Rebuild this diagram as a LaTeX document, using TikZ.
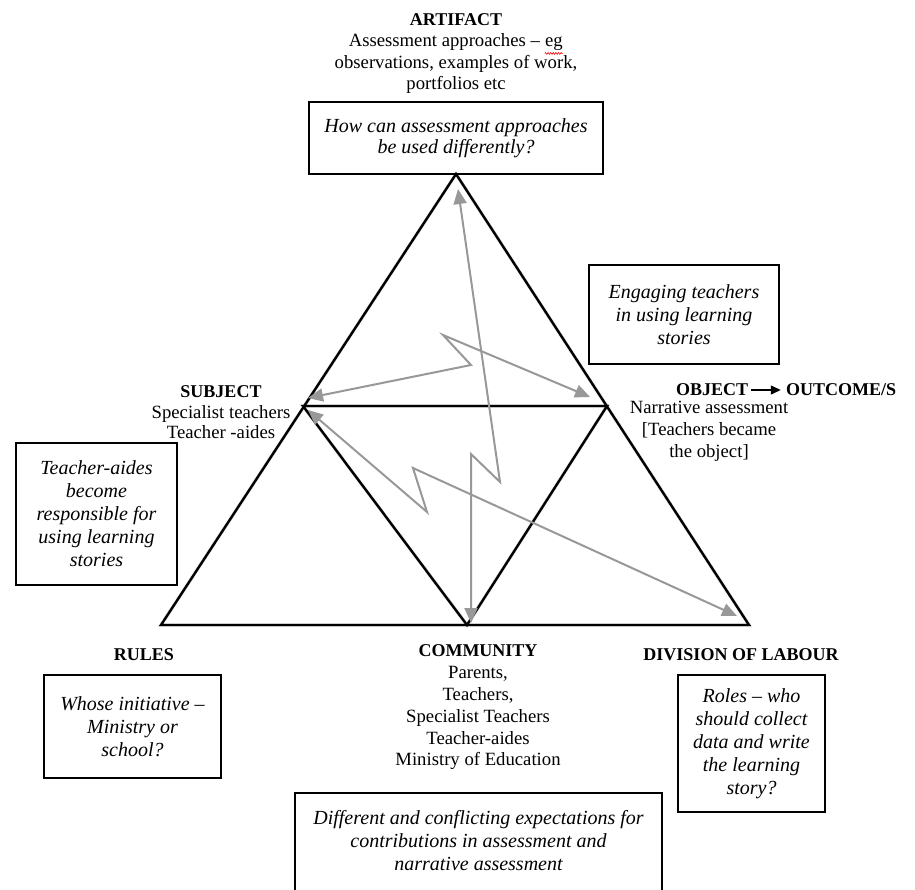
\documentclass[tikz,border=0pt]{standalone}
\usepackage{fontspec}
\setmainfont{Liberation Serif}
\usetikzlibrary{arrows.meta,decorations.pathmorphing}
\definecolor{flowgray}{RGB}{152,152,152}
\definecolor{shadegray}{RGB}{200,200,200}
% a word with a red spell-check wave under it
\newcommand\spellwave[1]{\tikz[baseline=(sw.base)]{%
  \node[inner sep=0, anchor=base] (sw) {#1};
  \draw[red, line width=0.6pt, decorate,
    decoration={zigzag, amplitude=0.9pt, segment length=2.6pt}]
    ([yshift=-3pt]sw.south west) -- ([yshift=-3pt]sw.south east);}}
\begin{document}
\begin{tikzpicture}[x=1pt,y=-1pt,
  tri/.style={line width=2.4pt, line join=miter},
  trishade/.style={line width=3.5pt, draw=shadegray, opacity=0.55},
  flow/.style={draw=flowgray, line width=2pt,
    {Triangle[length=15pt,width=13pt]}-{Triangle[length=15pt,width=13pt]}},
  head/.style={font=\fontsize{18}{21}\selectfont\bfseries, inner sep=0},
  plain/.style={font=\fontsize{18.7}{21}\selectfont, align=center, inner sep=0},
  note/.style={draw, line width=1.3pt, inner sep=0,
    font=\fontsize{20}{23}\selectfont\itshape, align=center},
]
\useasboundingbox (0,0) rectangle (915,889);

% corners of the activity triangle
\coordinate (apex) at (456,174);
\coordinate (bl) at (161,625);
\coordinate (br) at (749,625);
\coordinate (ml) at (303,406);
\coordinate (mr) at (607,406);
\coordinate (mb) at (467,625);

% soft shading under the triangle
\begin{scope}[shift={(1.5,2.5)}]
  \draw[trishade] (apex) -- (br) -- (bl) -- cycle;
  \draw[trishade] (ml) -- (mr) -- (mb) -- cycle;
\end{scope}
\draw[tri] (apex) -- (br) -- (bl) -- cycle;
\draw[tri] (ml) -- (mr) -- (mb) -- cycle;

% tension arrows
\coordinate (artTip) at (458,189);
\coordinate (comTip) at (471,623);
\coordinate (v1) at (500,482);
\coordinate (v2) at (471,454);
\draw[flow] (artTip) -- (v1) -- (v2) -- (comTip);

\coordinate (subTipA) at (308,398);
\coordinate (u1) at (471,365);
\coordinate (u2) at (443,335);
\coordinate (objTip) at (590,397);
\draw[flow] (subTipA) -- (u1) -- (u2) -- (objTip);

\coordinate (subTipB) at (308,410);
\coordinate (w1) at (427,512);
\coordinate (w2) at (413,468);
\coordinate (dolTip) at (737,616);
\draw[flow] (subTipB) -- (w1) -- (w2) -- (dolTip);

% artifact
\node[plain] (artifact) at (456,53.5) {\fontsize{18}{21}\selectfont\textbf{ARTIFACT}\\\fontsize{18.7}{21}\selectfont Assessment approaches – \spellwave{eg}\\observations, examples of work,\\portfolios etc};
\node[note, minimum width=294pt, minimum height=72pt, font=\fontsize{20}{21.5}\selectfont\itshape] (qArtifact) at (456,138)
  {How can assessment approaches\\be used differently?};

% object
\node[note, minimum width=190pt, minimum height=99pt] (qObject) at (684,314.5)
  {Engaging teachers\\in using learning\\stories};
\node[head] (object) at (712,390) {OBJECT};
\node[head] (outcome) at (841,390) {OUTCOME/S};
\draw[line width=1.3pt, -{Triangle[length=10pt,width=9pt]}, shorten <=3pt, shorten >=5pt]
  (object.east) -- (outcome.west);
\node[plain, font=\fontsize{18.7}{22}\selectfont] (objectText) at (709,431)
  {Narrative assessment\\{}[Teachers became\\the object]};

% subject
\node[plain, font=\fontsize{18.7}{20.5}\selectfont] (subject) at (221,412.5)
  {\fontsize{18}{20.5}\selectfont\textbf{SUBJECT}\\\fontsize{18.7}{20.5}\selectfont Specialist teachers\\Teacher -aides};
\node[note, minimum width=161pt, minimum height=142pt] (qSubject) at (96.5,514)
  {Teacher-aides\\become\\responsible for\\using learning\\stories};

% rules
\node[head] (rules) at (144,655) {RULES};
\node[note, minimum width=177pt, minimum height=103pt] (qRules) at (132.5,726.5)
  {Whose initiative –\\Ministry or\\school?};

% community
\node[plain, font=\fontsize{18.7}{21.8}\selectfont] (community) at (478,707.5)
  {\fontsize{18}{21.8}\selectfont\textbf{COMMUNITY}\\\fontsize{18.7}{21.8}\selectfont Parents,\\Teachers,\\Specialist Teachers\\Teacher-aides\\Ministry of Education};
\node[font=\fontsize{20}{23}\selectfont\itshape, align=center, inner sep=0] (qCommunity) at (478.5,841)
  {Different and conflicting expectations for\\contributions in assessment and\\narrative assessment};
\draw[line width=1.3pt] (295,895) |- (662,793) -- (662,895);

% division of labour
\node[head] (division) at (741,655) {DIVISION OF LABOUR};
\node[note, minimum width=147pt, minimum height=137pt] (qDivision) at (751.5,743.5)
  {Roles – who\\should collect\\data and write\\the learning\\story?};
\end{tikzpicture}
\end{document}
